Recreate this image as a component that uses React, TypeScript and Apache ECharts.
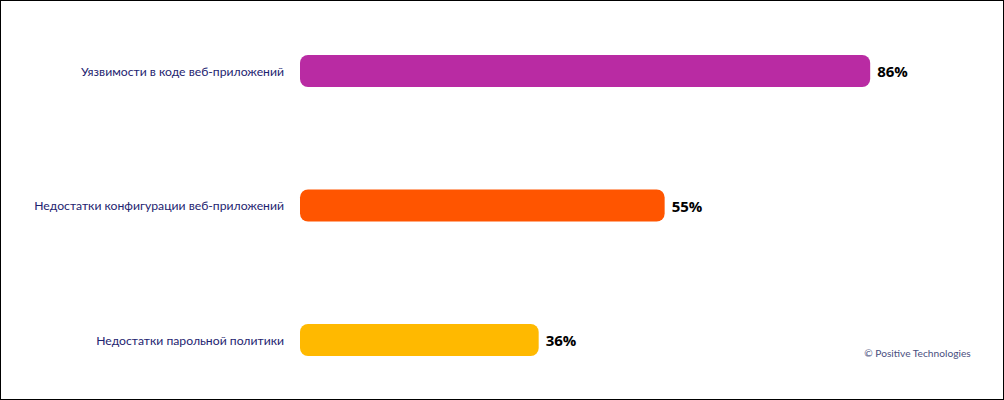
import React, { useEffect, useRef } from "react";
import * as echarts from "echarts";

const categories = [
  "Уязвимости в коде веб-приложений",
  "Недостатки конфигурации веб-приложений",
  "Недостатки парольной политики",
];
const values = [86, 55, 36];
const colors = ["#B92BA3", "#FF5500", "#FFB900"];
const copyright = "© Positive Technologies";

export default function App() {
  const ref = useRef<HTMLDivElement>(null);
  useEffect(() => {
    document.body.style.margin = "0";
    const chart = echarts.init(ref.current!, null, { renderer: "svg" });
    chart.setOption({
      animation: false,
      backgroundColor: "#ffffff",
      grid: { left: 299, right: 40, top: 70, bottom: 59 },
      xAxis: {
        type: "value",
        min: 0,
        max: 100,
        show: false,
      },
      yAxis: {
        type: "category",
        data: categories,
        inverse: true,
        boundaryGap: false,
        axisLine: { show: false },
        axisTick: { show: false },
        axisLabel: {
          margin: 16,
          color: "#1E2470",
          fontSize: 12.2,
          fontFamily: "Lato",
        },
      },
      series: [
        {
          type: "bar",
          barWidth: 32,
          data: values.map((v, i) => ({
            value: v,
            itemStyle: { color: colors[i], borderRadius: 8 },
          })),
          label: {
            show: true,
            position: "right",
            distance: 7,
            formatter: "{c}%",
            color: "#000000",
            fontWeight: "bold",
            fontSize: 15,
            fontFamily: "Open Sans",
          },
        },
      ],
      graphic: [
        {
          type: "text",
          right: 32,
          top: 347,
          style: {
            text: copyright,
            fill: "#4A4F80",
            fontSize: 10.2,
            fontFamily: "Lato",
          },
        },
      ],
    });
    return () => chart.dispose();
  }, []);
  return (
    <div
      ref={ref}
      style={{
        position: "absolute",
        left: 0,
        top: 0,
        width: 1004,
        height: 400,
        boxSizing: "border-box",
        border: "1px solid #000",
      }}
    />
  );
}
